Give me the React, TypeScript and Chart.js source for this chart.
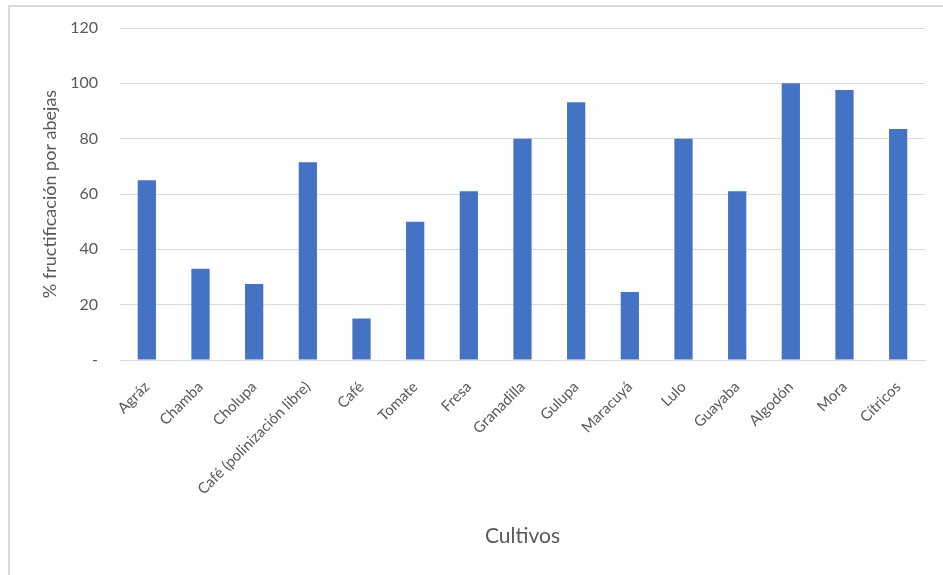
import React, { useEffect, useRef } from "react";
import { Chart, registerables } from "chart.js";

Chart.register(...registerables);

const categories = [
  "Agráz",
  "Chamba",
  "Cholupa",
  "Café (polinización libre)",
  "Café",
  "Tomate",
  "Fresa",
  "Granadilla",
  "Gulupa",
  "Maracuyá",
  "Lulo",
  "Guayaba",
  "Algodón",
  "Mora",
  "Cítricos",
];
const values = [65, 33, 27.5, 71.5, 15, 50, 61, 80, 93.2, 24.6, 80, 61, 100, 97.6, 83.5];
const yTicks = [0, 20, 40, 60, 80, 100, 120];
const yTitle = "% fructificación por abejas";
const xTitle = "Cultivos";

const FONT = "Lato, 'Open Sans', sans-serif";
const TEXT = "#595959";

const framePlugin = {
  id: "frame",
  beforeDraw(chart: any) {
    const ctx = chart.ctx;
    ctx.save();
    ctx.fillStyle = "#ffffff";
    ctx.fillRect(0, 0, chart.width, chart.height);
    ctx.strokeStyle = "#d9d9d9";
    ctx.lineWidth = 2;
    ctx.beginPath();
    ctx.moveTo(9, chart.height);
    ctx.lineTo(9, 6);
    ctx.lineTo(chart.width, 6);
    ctx.stroke();
    ctx.restore();
  },
};

export default function App() {
  const ref = useRef<HTMLCanvasElement>(null);
  useEffect(() => {
    document.body.style.margin = "0";
    const chart = new Chart(ref.current!, {
      type: "bar",
      data: {
        labels: categories,
        datasets: [
          {
            data: values,
            backgroundColor: "#4472C4",
            categoryPercentage: 1,
            barPercentage: 0.34,
          },
        ],
      },
      options: {
        animation: false,
        responsive: false,
        maintainAspectRatio: false,
        layout: { padding: { left: 36, right: 18, top: 28, bottom: 20 } },
        plugins: { legend: { display: false }, tooltip: { enabled: false } },
        scales: {
          x: {
            grid: { display: false, drawTicks: false },
            border: { color: "#d9d9d9", width: 1 },
            ticks: {
              color: TEXT,
              font: { family: FONT, size: 15 },
              minRotation: 45,
              maxRotation: 45,
              padding: 18,
              autoSkip: false,
            },
            title: {
              display: true,
              text: xTitle,
              color: TEXT,
              font: { family: FONT, size: 21 },
              padding: { top: 0, bottom: 6 },
            },
            afterFit(scale: any) {
              scale.height = 195;
            },
          },
          y: {
            min: 0,
            max: 120,
            afterBuildTicks(scale: any) {
              scale.ticks = yTicks.map((v) => ({ value: v }));
            },
            grid: { color: "#d9d9d9", drawTicks: false },
            border: { display: false },
            ticks: {
              color: TEXT,
              font: { family: FONT, size: 16 },
              padding: 22,
              callback: (v: any) => (v === 0 ? "-" : String(v)),
            },
            title: {
              display: true,
              text: yTitle,
              color: TEXT,
              font: { family: FONT, size: 18 },
              padding: { top: 3, bottom: 0 },
            },
            afterFit(scale: any) {
              scale.width = 84;
              scale.paddingTop = 0;
              scale.paddingBottom = 0;
            },
          },
        },
      },
      plugins: [framePlugin],
    });
    return () => chart.destroy();
  }, []);
  return (
    <div style={{ position: "fixed", left: 0, top: 0, width: 943, height: 575 }}>
      <canvas ref={ref} width={943} height={575} style={{ width: 943, height: 575 }} />
    </div>
  );
}
